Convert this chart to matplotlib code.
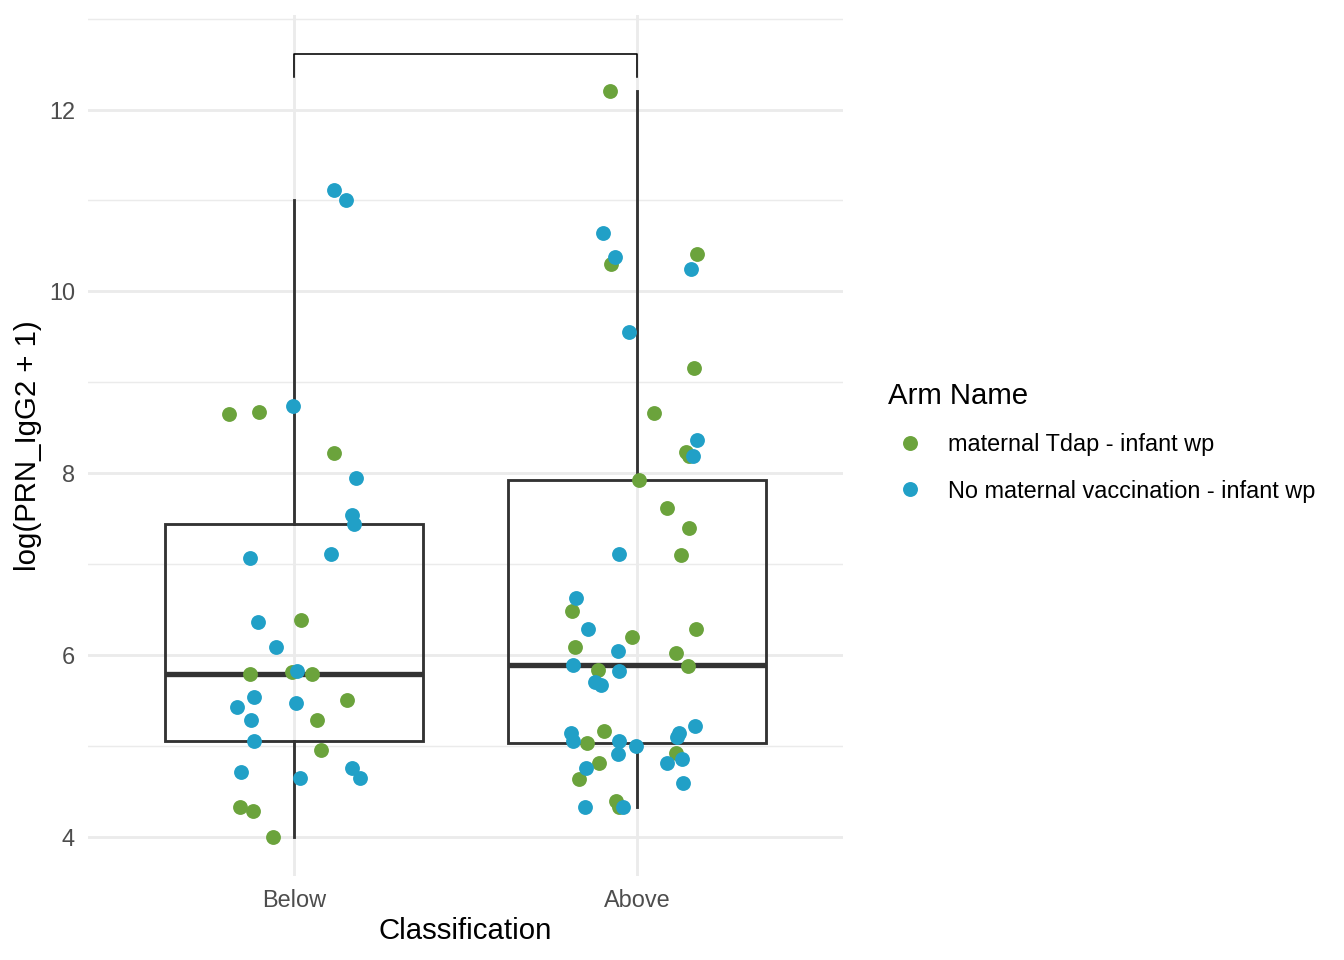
import numpy as np
import matplotlib.pyplot as plt
from matplotlib.lines import Line2D

plt.rcParams['font.family'] = ['Liberation Sans', 'DejaVu Sans']

# --- Données ---
categories = ["Below", "Above"]
arm_names = ["maternal Tdap - infant wp", "No maternal vaccination - infant wp"]
colors = ["#6ba33c", "#21a0c7"]

# groupe "Below"
below_tdap_y = [8.65, 8.67, 8.22, 6.39, 5.79, 5.81, 5.79, 5.51, 5.29, 4.96, 4.33, 4.29, 4.00]
below_tdap_dx = [-0.189, -0.103, 0.116, 0.022, -0.129, -0.005, 0.052, 0.155, 0.067, 0.079, -0.157, -0.120, -0.062]
below_none_y = [11.12, 11.00, 8.74, 7.945, 7.54, 7.44, 7.11, 7.07, 6.36, 6.09, 5.83, 5.54, 5.43, 5.47,
                5.29, 5.05, 4.71, 4.65, 4.76, 4.65]
below_none_dx = [0.117, 0.152, -0.002, 0.180, 0.168, 0.176, 0.108, -0.127, -0.104, -0.052, 0.009, -0.117,
                 -0.165, 0.007, -0.124, -0.116, -0.154, 0.018, 0.170, 0.193]

# groupe "Above"
above_tdap_y = [12.20, 10.30, 10.41, 9.16, 8.66, 8.235, 8.19, 7.93, 7.62, 7.40, 7.10, 6.49, 6.29, 6.20,
                6.09, 6.025, 5.875, 5.835, 5.17, 5.03, 4.92, 4.81, 4.64, 4.40, 4.33]
above_tdap_dx = [-0.080, -0.075, 0.176, 0.167, 0.049, 0.142, 0.150, 0.005, 0.087, 0.151, 0.128, -0.190,
                 0.171, -0.015, -0.181, 0.113, 0.148, -0.115, -0.096, -0.145, 0.113, -0.111, -0.169,
                 -0.060, -0.052]
above_none_y = [10.645, 10.38, 10.25, 9.55, 8.37, 8.195, 7.11, 6.63, 6.29, 6.05, 5.89, 5.83, 5.70, 5.67,
                5.14, 5.05, 5.05, 5.00, 4.91, 5.22, 5.14, 5.10, 4.86, 4.81, 4.76, 4.59, 4.33, 4.33]
above_none_dx = [-0.099, -0.063, 0.157, -0.023, 0.175, 0.162, -0.052, -0.179, -0.144, -0.056, -0.186,
                 -0.052, -0.122, -0.105, -0.193, -0.187, -0.053, -0.004, -0.056, 0.169, 0.122, 0.115,
                 0.130, 0.087, -0.149, 0.133, -0.040, -0.151]

# crochet de comparaison
bracket_y = 12.615
bracket_leg = 12.36

# --- Figure ---
fig = plt.figure(figsize=(7, 5), dpi=192)
ax = fig.add_axes([88 / 1344, 84 / 960, (843 - 88) / 1344, (945 - 84) / 960])

positions = [1, 2]
box_data = [below_tdap_y + below_none_y, above_tdap_y + above_none_y]
ax.boxplot(box_data, positions=positions, widths=0.75, whis=1.5, showfliers=False, showcaps=False,
           patch_artist=True,
           boxprops=dict(facecolor="none", edgecolor="#333333", linewidth=1.07),
           whiskerprops=dict(color="#333333", linewidth=1.07),
           medianprops=dict(color="#333333", linewidth=2.0, solid_capstyle="butt"),
           zorder=2)

# points (jitter)
ax.scatter(1 + np.array(below_tdap_dx), below_tdap_y, s=31, color=colors[0], linewidths=0, zorder=3)
ax.scatter(2 + np.array(above_tdap_dx), above_tdap_y, s=31, color=colors[0], linewidths=0, zorder=3)
ax.scatter(1 + np.array(below_none_dx), below_none_y, s=31, color=colors[1], linewidths=0, zorder=4)
ax.scatter(2 + np.array(above_none_dx), above_none_y, s=31, color=colors[1], linewidths=0, zorder=4)

# crochet
ax.plot([1, 1, 2, 2], [bracket_leg, bracket_y, bracket_y, bracket_leg], color="black", linewidth=0.6,
        zorder=5)

# axes
ax.set_xlim(0.4, 2.6)
ax.set_ylim(3.57, 13.04)
ax.set_xticks(positions)
ax.set_xticklabels(categories)
ax.set_yticks([4, 6, 8, 10, 12])
ax.set_yticks([5, 7, 9, 11, 13], minor=True)
ax.tick_params(axis="both", which="both", length=0, labelsize=8.8, labelcolor="#4d4d4d", pad=4.9)
ax.grid(True, which="major", color="#ebebeb", linewidth=1.07)
ax.grid(True, which="minor", axis="y", color="#ebebeb", linewidth=0.53)
ax.set_axisbelow(True)
for sp in ax.spines.values():
    sp.set_visible(False)

ax.set_xlabel("Classification", fontsize=11, labelpad=2)
ax.set_ylabel("log(PRN_IgG2 + 1)", fontsize=11, labelpad=2.5)

# légende
handles = [Line2D([], [], marker="o", linestyle="none", markersize=5.6, markerfacecolor=c,
                  markeredgewidth=0) for c in colors]
leg = fig.legend(handles, arm_names, title="Arm Name", loc="upper left",
                 bbox_to_anchor=(876 / 1344, 1 - 370 / 960), frameon=False, fontsize=8.8,
                 title_fontsize=11, alignment="left", borderpad=0, handlelength=1.875,
                 handletextpad=0.68, labelspacing=1.0)

fig.savefig("out.png", dpi=192)
